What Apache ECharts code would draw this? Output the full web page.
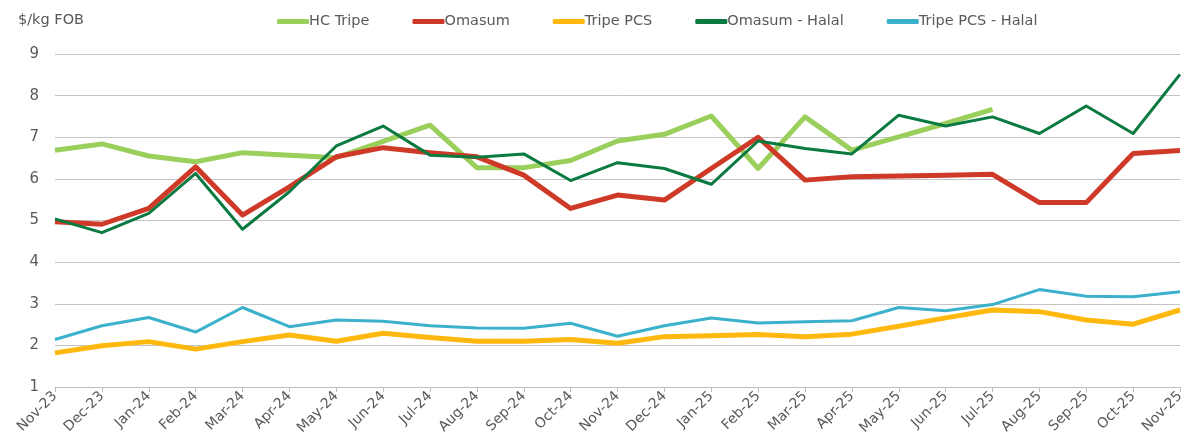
<!DOCTYPE html>
<html>
<head>
<meta charset="utf-8">
<script src="https://cdn.jsdelivr.net/npm/echarts@6/dist/echarts.min.js"></script>
<style>
  html, body { margin: 0; padding: 0; background: #fff; }
  #chart { width: 1189px; height: 448px; }
</style>
</head>
<body>
<div id="chart"></div>
<script>
const months = ['Nov-23', 'Dec-23', 'Jan-24', 'Feb-24', 'Mar-24', 'Apr-24', 'May-24', 'Jun-24', 'Jul-24',
  'Aug-24', 'Sep-24', 'Oct-24', 'Nov-24', 'Dec-24', 'Jan-25', 'Feb-25', 'Mar-25', 'Apr-25', 'May-25',
  'Jun-25', 'Jul-25', 'Aug-25', 'Sep-25', 'Oct-25', 'Nov-25']

const hcTripe = [6.69, 6.84, 6.55, 6.41, 6.63, 6.57, 6.51, 6.9, 7.29, 6.27, 6.27, 6.44, 6.91, 7.07, 7.51,
  6.25, 7.49, 6.69, 7.01, 7.33, 7.67, null, null, null, null]
const omasum = [4.97, 4.91, 5.29, 6.29, 5.13, 5.81, 6.53, 6.75, 6.63, 6.53, 6.09, 5.29, 5.61, 5.49, 6.25,
  7.0, 5.97, 6.05, 6.07, 6.09, 6.11, 5.43, 5.43, 6.61, 6.68]
const tripePcs = [1.82, 1.99, 2.09, 1.91, 2.09, 2.25, 2.1, 2.29, 2.19, 2.1, 2.1, 2.14, 2.05, 2.21, 2.23,
  2.26, 2.21, 2.27, 2.46, 2.66, 2.85, 2.81, 2.61, 2.51, 2.85]
const omasumHalal = [5.04, 4.71, 5.17, 6.13, 4.79, 5.69, 6.79, 7.27, 6.57, 6.52, 6.6, 5.96, 6.39, 6.25, 5.87,
  6.91, 6.73, 6.6, 7.53, 7.27, 7.49, 7.09, 7.75, 7.09, 8.51]
const tripePcsHalal = [2.14, 2.47, 2.67, 2.32, 2.91, 2.45, 2.61, 2.58, 2.47, 2.42, 2.41, 2.53, 2.22, 2.47, 2.66,
  2.54, 2.57, 2.59, 2.91, 2.83, 2.98, 3.34, 3.18, 3.17, 3.29]

const textColor = '#595959'
const font = 'DejaVu Sans'

function line(name, data, color, width) {
  return {
    name,
    type: 'line',
    data,
    showSymbol: false,
    symbol: 'none',
    lineStyle: { color, width, join: 'round' },
    itemStyle: { color },
  }
}

const chart = echarts.init(document.getElementById('chart'))
chart.setOption({
  animation: false,
  title: {
    text: '$/kg FOB',
    left: 13,
    top: 8,
    textStyle: { color: textColor, fontSize: 14.5, fontWeight: 'normal', fontFamily: font },
  },
  legend: {
    top: 9,
    left: 272,
    itemGap: 43,
    itemWidth: 32,
    itemHeight: 5,
    icon: 'roundRect',
    textStyle: { color: textColor, fontSize: 14.5, fontFamily: font, padding: [0, 0, 0, -5] },
  },
  grid: { left: 55, right: 9, top: 54, bottom: 61 },
  xAxis: {
    type: 'category',
    data: months,
    boundaryGap: false,
    axisLine: { lineStyle: { color: '#bfbfbf', width: 1 } },
    axisTick: { show: true, length: 5, lineStyle: { color: '#bfbfbf' } },
    axisLabel: { color: textColor, fontSize: 14, fontFamily: font, rotate: 45, margin: 7, interval: 0 },
  },
  yAxis: {
    type: 'value',
    min: 1,
    max: 9,
    interval: 1,
    axisLine: { show: false },
    axisTick: { show: false },
    axisLabel: { color: textColor, fontSize: 15, fontFamily: font, margin: 16 },
    splitLine: { lineStyle: { color: '#c4c4c4', width: 1 } },
  },
  series: [
    line('HC Tripe', hcTripe, '#9bcf5c', 5),
    line('Omasum', omasum, '#cf3a28', 5),
    line('Tripe PCS', tripePcs, '#ffb80d', 5),
    line('Omasum - Halal', omasumHalal, '#0a7a40', 3),
    line('Tripe PCS - Halal', tripePcsHalal, '#3bb1cb', 3),
  ],
})
</script>
</body>
</html>
